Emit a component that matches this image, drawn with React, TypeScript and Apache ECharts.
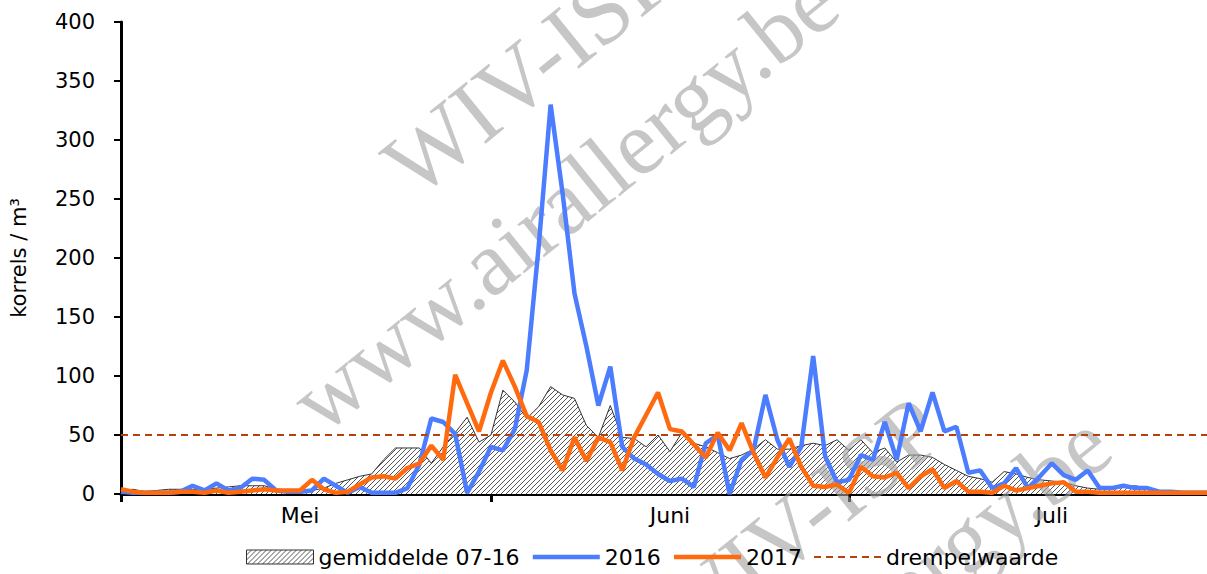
import React, { useEffect, useRef } from 'react';
import * as echarts from 'echarts';

// ---- categories ----
const monthNames = ['Mei', 'Juni', 'Juli'];
const monthDays = [31, 30, 31];
const days: string[] = [];
monthNames.forEach((m, mi) => {
  for (let d = 1; d <= monthDays[mi]; d++) days.push(`${d} ${m}`);
});
const monthStartIdx = [0, 31, 61];
const monthLabelIdx = [15, 46, 78];

// ---- series values (korrels / m³) ----
const gemiddelde = [
  3, 4, 2, 3, 4, 4, 4, 4, 5, 6,
  7, 7, 7, 4, 3, 3, 3, 5, 9, 12,
  15, 17, 29, 39, 39, 39, 26, 40, 52, 65,
  44, 50, 88, 78, 64, 74, 91, 84, 81, 58,
  48, 75, 48, 47, 40, 50, 36, 52, 43, 40,
  35, 30, 33, 38, 46, 38, 38, 41, 43, 41,
  46, 37, 46, 35, 39, 27, 33, 33, 31, 25,
  20, 15, 13, 10, 19, 17, 14, 12, 11, 10,
  7, 5, 4, 5, 6, 7, 5, 2, 2, 2,
  1, 1,
];
const y2016 = [
  2, 1, 1, 1, 1, 2, 7, 3, 9, 3,
  5, 13, 12, 3, 2, 2, 3, 13, 7, 1,
  6, 1, 1, 1, 5, 25, 64, 61, 51, 1,
  19, 40, 37, 55, 105, 210, 330, 255, 170, 125,
  75, 108, 40, 30, 25, 17, 11, 13, 6, 43,
  50, 0, 29, 37, 84, 46, 23, 40, 117, 32,
  10, 12, 33, 29, 61, 29, 77, 53, 86, 53,
  57, 18, 20, 5, 9, 22, 5, 15, 26, 16,
  12, 20, 5, 5, 7, 5, 5, 2, 2, 1,
  1, 1,
];
const y2017 = [
  4, 2, 1, 1, 1, 2, 2, 1, 3, 1,
  2, 3, 4, 3, 3, 3, 12, 4, 1, 2,
  8, 14, 15, 13, 22, 26, 41, 29, 101, 77,
  53, 86, 113, 91, 66, 61, 37, 20, 48, 28,
  48, 44, 20, 48, 67, 86, 55, 53, 42, 31,
  52, 37, 60, 35, 14, 31, 47, 23, 7, 6,
  8, 1, 23, 15, 14, 18, 5, 15, 21, 5,
  11, 2, 2, 1, 7, 3, 5, 7, 9, 10,
  2, 2, 1, 1, 1, 1, 1, 1, 1, 1,
  1, 1,
];
const drempelwaarde = 50;
const yMin = 0;
const yMax = 400;
const yInterval = 50;

const FONT = 'DejaVu Sans';
const BLUE = '#4D7DFF';
const ORANGE = '#FF6A0E';
const THR = '#B5420F';

function makeHatch(): HTMLCanvasElement {
  const c = document.createElement('canvas');
  c.width = 5;
  c.height = 5;
  const ctx = c.getContext('2d')!;
  ctx.fillStyle = '#ffffff';
  ctx.fillRect(0, 0, 5, 5);
  ctx.strokeStyle = '#555555';
  ctx.lineWidth = 1;
  ctx.beginPath();
  ctx.moveTo(0, 5); ctx.lineTo(5, 0);
  ctx.moveTo(-1, 1); ctx.lineTo(1, -1);
  ctx.moveTo(4, 6); ctx.lineTo(6, 4);
  ctx.stroke();
  return c;
}

export default function App() {
  const ref = useRef<HTMLDivElement>(null);
  useEffect(() => {
    if (!ref.current) return;
    const chart = echarts.init(ref.current, undefined, { renderer: 'svg' });
    const hatch: any = { image: makeHatch(), repeat: 'repeat' };
    const wmStyle = (text: string) => ({
      text,
      font: '92px "Liberation Serif"',
      fill: 'rgba(160,160,160,0.6)',
      verticalAlign: 'bottom',
    });
    const option: any = {
      animation: false,
      backgroundColor: '#ffffff',
      textStyle: { fontFamily: FONT },
      grid: { left: 117, right: 0, top: 22, bottom: 80, containLabel: false },
      xAxis: {
        type: 'category',
        data: days,
        boundaryGap: false,
        axisLine: { lineStyle: { color: '#000', width: 3 } },
        axisTick: {
          show: true,
          interval: (i: number) => monthStartIdx.includes(i),
          length: 8,
          lineStyle: { color: '#000', width: 3 },
        },
        axisLabel: {
          interval: (i: number) => monthLabelIdx.includes(i),
          formatter: (_v: string, i: number) => monthNames[monthLabelIdx.indexOf(i)] ?? '',
          color: '#000',
          fontSize: 22,
          fontFamily: FONT,
          margin: 10,
        },
        splitLine: { show: false },
      },
      yAxis: {
        type: 'value',
        min: yMin,
        max: yMax,
        interval: yInterval,
        name: 'korrels / m³',
        nameLocation: 'middle',
        nameRotate: 90,
        nameGap: 92,
        nameTextStyle: { color: '#000', fontSize: 21, fontFamily: FONT },
        axisLine: { show: true, lineStyle: { color: '#000', width: 3 } },
        axisTick: { show: true, length: 7, lineStyle: { color: '#000', width: 2 } },
        axisLabel: { color: '#000', fontSize: 21, fontFamily: FONT, margin: 26 },
        splitLine: { show: false },
      },
      legend: {
        left: 241,
        top: 541,
        itemWidth: 67,
        itemHeight: 14,
        itemGap: 11,
        textStyle: { fontSize: 22, color: '#000', fontFamily: FONT },
        data: [
          { name: 'gemiddelde 07-16', icon: 'rect', itemStyle: { color: hatch, borderColor: '#333', borderWidth: 1 } },
          { name: '2016', itemStyle: { opacity: 0 }, lineStyle: { width: 4.5 } },
          { name: '2017', itemStyle: { opacity: 0 }, lineStyle: { width: 4.5 } },
          { name: 'drempelwaarde', itemStyle: { opacity: 0 }, lineStyle: { width: 2 } },
        ],
      },
      graphic: [
        { type: 'text', x: 425, y: 212, rotation: 0.68, z: 3, silent: true, style: wmStyle('WIV-ISP') },
        { type: 'text', x: 332, y: 448, rotation: 0.68, z: 3, silent: true, style: wmStyle('www.airallergy.be') },
        { type: 'text', x: 695, y: 665, rotation: 0.68, z: 3, silent: true, style: wmStyle('WIV-ISP') },
        { type: 'text', x: 605, y: 890, rotation: 0.68, z: 3, silent: true, style: wmStyle('www.airallergy.be') },
      ],
      series: [
        {
          name: 'gemiddelde 07-16',
          type: 'line',
          data: gemiddelde,
          symbol: 'none',
          lineStyle: { color: '#333', width: 1 },
          itemStyle: { color: '#333' },
          areaStyle: { color: hatch, opacity: 1 },
          z: 1,
        },
        {
          name: 'drempelwaarde',
          type: 'line',
          data: [],
          symbol: 'none',
          lineStyle: { color: THR, width: 2, type: [7, 5] },
          itemStyle: { color: THR },
          markLine: {
            silent: true,
            symbol: ['none', 'none'],
            label: { show: false },
            lineStyle: { color: THR, width: 2, type: [7, 5] },
            data: [{ yAxis: drempelwaarde }],
          },
          z: 2,
        },
        {
          name: '2016',
          type: 'line',
          data: y2016,
          symbol: 'none',
          lineStyle: { color: BLUE, width: 4.5 },
          itemStyle: { color: BLUE },
          z: 4,
        },
        {
          name: '2017',
          type: 'line',
          data: y2017,
          symbol: 'none',
          lineStyle: { color: ORANGE, width: 4.5 },
          itemStyle: { color: ORANGE },
          z: 5,
        },
      ],
    };
    chart.setOption(option);
    return () => chart.dispose();
  }, []);
  return (
    <div
      ref={ref}
      style={{ position: 'absolute', left: 0, top: 0, width: 1207, height: 574, background: '#fff' }}
    />
  );
}
